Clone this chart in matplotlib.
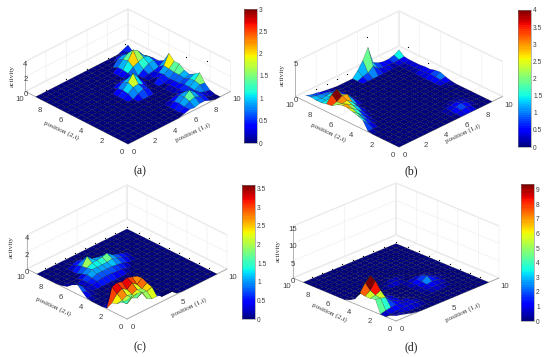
import numpy as np
import matplotlib
matplotlib.use("Agg")
import matplotlib.pyplot as plt
from matplotlib.cm import ScalarMappable
from matplotlib.colors import Normalize
from mpl_toolkits.mplot3d import proj3d

W, H = 550, 357
SERIF = "Liberation Serif"
SANS = "Liberation Sans"
grid_x = [0, .5, 1, 1.5, 2, 2.5, 3, 3.5, 4, 4.5, 5, 5.5, 6, 6.5, 7, 7.5, 8, 8.5, 9]
grid_y = list(grid_x)

# activity rows: (row index along position (2,i), first column index, values)
rows_a = [
    (18, 17, [.3, .6]), (17, 15, [.5, .5, .3]), (16, 14, [.8, 1.0, .7, .5]),
    (15, 13, [.4, 1.1, 1.6, 1.2, .8, .3]), (14, 13, [.4, 1.3, 2.4, 1.9, 1.0, .5]),
    (13, 13, [.3, .8, 1.1, 1.4, 1.2, .6]), (12, 10, [.4, .5, .3, 0, 0, .5, .9, 1.0, .6]),
    (11, 9, [.4, .9, 1.1, .7, 0, 0, .2, .3, .5, 1.0]), (10, 9, [.5, 1.2, 2.1, 1.2, .4, 0, 0, .4, 1.0, 2.3]),
    (9, 9, [.4, .9, 1.0, .6, 0, 0, .5, .5, .9, 1.6]), (8, 10, [.4, .7, .5, 0, 0, 0, .3, .8, 1.6]),
    (7, 15, [.2, .4, .8, 1.1]), (6, 15, [.2, .4, .7, .9]), (5, 15, [.3, .6, 1.0, 1.3]),
    (4, 12, [.2, .4, .5, .3, .6, 1.1, 1.8]), (3, 12, [.4, .9, 1.0, .5, .5, .9, .8]),
    (2, 12, [.5, 1.0, 1.6, 1.0, .6, .3, .2]), (1, 12, [.4, .8, 1.0, .7, .5]),
    (0, 11, [.2, .4, .3, .5, .5, .2]),
]
rows_b = [
    (18, 0, [.9, .6, .5, .3, .2, .1, 0, 0, 0, 0, .8, 1.9, 3.4, .9, .5, .3, .3, .5, .9]),
    (17, 0, [1.0, .8, .7, .6, .4, .2, 0, 0, 0, 0, .3, .5, 1.1, .4, .2, .2, .1, .2, .3]),
    (16, 0, [.9, .8, .8, .9, .6, .3]), (15, 0, [.9, .9, 1.0, 1.0, .7, .3]),
    (14, 0, [1.1, 2.1, 2.5, 1.4, .7, .3]), (13, 0, [1.2, 1.4, 1.9, 1.8, .8, .2]),
    (12, 0, [1.7, 1.5, 1.6, 1.0, .3]), (11, 0, [2.0, 1.8, 1.3, .8, .2]),
    (10, 0, [2.0, 1.5, 1.0, .4, .1]), (9, 0, [1.8, 1.2, .6, .2]), (8, 0, [1.6, .9, .4, .1]),
    (7, 0, [1.3, .5, .2]), (6, 0, [.1, .1]),
    (16, 17, [.1, .2]), (15, 17, [.1, .2]), (14, 17, [.1, .2]), (13, 17, [.2, .3]),
    (12, 17, [.2, .3]), (11, 17, [.3, .5]), (10, 17, [.3, .6]), (9, 17, [.2, .3]), (8, 17, [.05, .1]),
    (4, 13, [.05, .1, .1, .05]), (3, 12, [.1, .2, .3, .2, .1]), (2, 12, [.1, .3, .5, .3, .1]),
    (1, 13, [.2, .3, .2]),
]
rows_c = [
    (16, 5, [.2, .4, .3]), (15, 5, [.4, .7, .5, .4, .2]), (14, 5, [.6, 1.5, .9, .8, .7, .4, .2]),
    (13, 4, [.3, .7, 1.0, 1.0, 1.1, 1.3, .8, .6, .4, .2]),
    (12, 3, [.2, .5, .8, .8, .8, .8, .9, .7, .5, .3, .1]),
    (11, 3, [.2, .4, .6, .6, .6, .6, .5, .4, .2]), (10, 3, [.2, .3, .4, .4, .4, .3, .3, .1]),
    (13, 0, [.1, .1]), (12, 0, [.3, .2, .1]), (11, 0, [1.0, .5, .1]), (10, 0, [1.2, .6, .2]),
    (9, 0, [.6, .3, .1]), (8, 0, [.1, .1]),
    (5, 0, [0, .1, .3, .3, .3, .2, .1]), (4, 0, [.1, 2.3, 2.5, 2.3, 2.5, 2.3, 2.1, .6]),
    (3, 0, [1.0, 1.8, 2.1, 1.7, 2.2, 1.7, 2.2, .5]), (2, 0, [1.2, 1.3, 1.6, 1.4, 1.7, 1.5, 1.9, .3]),
    (1, 0, [1.7, 1.2, 1.6, 1.3, 1.6, 1.5, 1.7, .5]),
    (0, 0, [2.2, 2.4, 2.4, 2.3, 1.2, .9, .9, .9, 1.0, .6, .1]),
]
rows_d = [
    (10, 8, [.2, .4, .4, .2]), (9, 0, [.5, .5, 1.0, .7, .3, 0, 0, .2, .4, .5, .3, .1]),
    (8, 0, [1.4, 2.5, 3.5, 1.5, .5, .2, 0, 0, 0, 0, .3, .5, .6, .5, .3]),
    (7, 0, [3.7, 6.0, 7.5, 3.0, 1.0, .4, 0, 0, 0, 0, .4, .9, 1.4, .9, .4, .2]),
    (6, 0, [3.4, 4.5, 6.6, 3.0, 1.0, .6, 0, 0, 0, 0, .3, .8, 1.9, 1.1, .5, .2]),
    (5, 0, [3.4, 3.7, 4.5, 2.0, 1.0, .6, 0, 0, 0, 0, .3, .6, .9, .7, .4]),
    (4, 0, [3.7, 3.5, 3.0, 1.5, .9, .5, .5, 0, 0, 0, .2, .4, .5, .4, .2]),
    (3, 0, [.1, .5, .8, 1.0, .8, .6, .6, .4]), (2, 0, [0, .1, .3, .5, .6, .6, .5, .3, .1]),
    (1, 0, [1, .7, .5, .2]), (0, 0, [1.5, 1.2, .8, .4, .1]),
]
# colour values that differ from the height: (row, column, colour value)
tint_b = [(18, 11, 1.2), (18, 12, 1.9), (18, 13, 1.3), (17, 12, 1.0)]

dots_a = ([1, 3, 5, 7, 9, 9, 9, 5], [9, 9, 9, 9, 9.3, 3.3, 1.3, 5], [.2, .2, .2, .2, .5, 3, 3.9, 1.1])
dots_b = ([9, 9, 9, 9, 9, 5.9, 4, 3, 2, 1], [8.1, 6.2, 4.2, 2.1, .4, 9, 9, 9, 9, 9], [2, 1, 0, 0, 0, 5, 1, 1, 1, 1])
edge_1 = [1, 2, 3, 4, 5, 6, 7, 8, 9.2, 9.2, 9.2, 9.2, 9.2, 9.2, 9.2, 9.2, 9.2]
edge_2 = [9.2, 9.2, 9.2, 9.2, 9.2, 9.2, 9.2, 9.2, 9.2, 8, 7, 6, 5, 4, 3, 2, 1]
dots_c = (edge_1, edge_2, [0] * 17)
dots_d = (edge_1, edge_2, [0] * 17)

x_ticks_ab = [0, 2, 4, 6, 8, 10]
x_ticks_cd = [0, 5, 10]
y_ticks = [0, 2, 4, 6, 8, 10]
z_ticks_a = [0, 2, 4]
z_ticks_b = [0, 5]
z_ticks_c = [0, 2, 4]
z_ticks_d = [0, 5, 10, 15]
cb_ticks_a = [0, .5, 1, 1.5, 2, 2.5, 3]
cb_ticks_b = [0, .5, 1, 1.5, 2, 2.5, 3, 3.5, 4]
cb_ticks_c = [0, .5, 1, 1.5, 2, 2.5, 3, 3.5]
cb_ticks_d = [0, 1, 2, 3, 4, 5, 6, 7, 8, 9]

panels = [
    dict(rows=rows_a, dots=dots_a, xt=x_ticks_ab, zt=z_ticks_a, cbt=cb_ticks_a, vmax=3.0, zmax=4, tag="(a)", gain=.85, tint=[],
         front=(128, 144), right=(230, 90), left=(25, 93), zpx=30, cb=(244, 9, 257, 143),
         l2=(61, 130), l1=(193, 132), la=(12, 76), lt=(140, 171)),
    dict(rows=rows_b, dots=dots_b, xt=x_ticks_ab, zt=z_ticks_b, cbt=cb_ticks_b, vmax=4.0, zmax=5, tag="(b)", gain=1.6, tint=tint_b,
         front=(399, 147), right=(502, 96), left=(295, 97), zpx=35, cb=(518, 10, 531, 147),
         l2=(328, 132), l1=(463, 133), la=(282, 75), lt=(411, 171)),
    dict(rows=rows_c, dots=dots_c, xt=x_ticks_cd, zt=z_ticks_c, cbt=cb_ticks_c, vmax=3.6, zmax=4, tag="(c)", gain=1.3, tint=[],
         front=(127, 319), right=(227, 270), left=(27, 268), zpx=34, cb=(242, 185, 255, 319),
         l2=(53, 306), l1=(189, 307), la=(11, 247), lt=(140, 347)),
    dict(rows=rows_d, dots=dots_d, xt=x_ticks_cd, zt=z_ticks_d, cbt=cb_ticks_d, vmax=9.4, zmax=15, tag="(d)", gain=1.25, tint=[],
         front=(396, 321), right=(502, 276), left=(296, 280), zpx=52, cb=(521, 184, 534, 321),
         l2=(329, 312), l1=(463, 312), la=(278, 251), lt=(411, 347)),
]

fig = plt.figure(figsize=(W / 100, H / 100), dpi=100)
jet = plt.get_cmap("jet", 64)
TICK = "#404040"


def project(ax, x, y, z):
    xd, yd, _ = proj3d.proj_transform(x, y, z, ax.get_proj())
    return ax.transData.transform((xd, yd))


for p in panels:
    X, Y = np.meshgrid(grid_x, grid_y)
    Z = np.zeros_like(X, dtype=float)
    for j, i0, vals in p["rows"]:
        Z[j, i0:i0 + len(vals)] = vals

    hw = (p["right"][0] - p["left"][0]) / 2
    depth = p["front"][1] - (p["right"][1] + p["left"][1]) / 2
    sin_e = depth / hw
    elev = np.degrees(np.arcsin(sin_e))
    h = p["zpx"] / (hw * np.sqrt(2) * np.cos(np.radians(elev)))

    s0 = 300
    ax = fig.add_axes([.2, .2, s0 / W, s0 / H], projection="3d", proj_type="ortho")
    ax.set_xlim(0, 10, view_margin=0)
    ax.set_ylim(0, 10, view_margin=0)
    ax.set_zlim(0, p["zmax"], view_margin=0)
    ax.view_init(elev=elev, azim=-135)
    ax.set_box_aspect((1, 1, h))
    ax.patch.set_alpha(0)

    ax.apply_aspect()
    rp = project(ax, 10, 0, 0)
    lp = project(ax, 0, 10, 0)
    s = s0 * (2 * hw) / (rp[0] - lp[0])
    ax.set_position([.2, .2, s / W, s / H])
    ax.apply_aspect()
    fp = project(ax, 0, 0, 0)
    tx, ty = p["front"][0], H - p["front"][1]
    ax.set_position([.2 + (tx - fp[0]) / W, .2 + (ty - fp[1]) / H, s / W, s / H])

    C = Z.copy() * p["gain"]
    for j, i, v in p["tint"]:
        C[j, i] = v
    fc = jet(Normalize(0, p["vmax"])(C[1:, 1:]))
    ax.plot_surface(X, Y, Z, facecolors=fc, rstride=1, cstride=1, shade=False,
                    edgecolor=(0, 0, 0, .45), linewidth=.3, antialiased=True)
    ax.scatter(*p["dots"], s=.8, c="k", depthshade=False, linewidths=0)

    ax.set_xticks(p["xt"])
    ax.set_yticks(y_ticks)
    ax.set_zticks(p["zt"])
    for axis in (ax.xaxis, ax.yaxis, ax.zaxis):
        axis.set_pane_color((1, 1, 1, 1))
        axis.pane.set_edgecolor("#ececec")
        axis.line.set_color("#9a9a9a")
        axis.line.set_linewidth(.5)
        axis._axinfo["grid"].update(color="#ececec", linewidth=.4)
        axis._axinfo["tick"].update(inward_factor=0, outward_factor=0)
    ax.tick_params(labelsize=5.6, colors=TICK, pad=-3.5)
    for t in ax.get_xticklabels() + ax.get_yticklabels() + ax.get_zticklabels():
        t.set_family(SANS)
    ax.tick_params(axis="z", pad=-8)

    kw = dict(ha="center", va="center", family=SERIF, color="#303030", fontsize=5.2, rotation_mode="anchor")
    fig.text(p["l2"][0] / W, 1 - p["l2"][1] / H, "position (2,i)", rotation=-25, **kw)
    fig.text(p["l1"][0] / W, 1 - p["l1"][1] / H, "position (1,i)", rotation=25, **kw)
    fig.text(p["la"][0] / W, 1 - p["la"][1] / H, "activity", rotation=90, **kw)
    fig.text(p["lt"][0] / W, 1 - p["lt"][1] / H, p["tag"], ha="center", va="center",
             family=SERIF, fontsize=8.5, color="#202020")

    x0, y0, x1, y1 = p["cb"]
    cax = fig.add_axes([x0 / W, 1 - y1 / H, (x1 - x0) / W, (y1 - y0) / H])
    cbar = fig.colorbar(ScalarMappable(Normalize(0, p["vmax"]), jet), cax=cax, ticks=p["cbt"])
    cbar.ax.set_yticklabels([f"{t:g}" for t in p["cbt"]], family=SANS)
    cbar.ax.tick_params(labelsize=4.8, length=0, pad=1.5, colors=TICK)
    cbar.outline.set_linewidth(.4)
    cbar.outline.set_edgecolor("#808080")

fig.savefig("out.png", dpi=100)
